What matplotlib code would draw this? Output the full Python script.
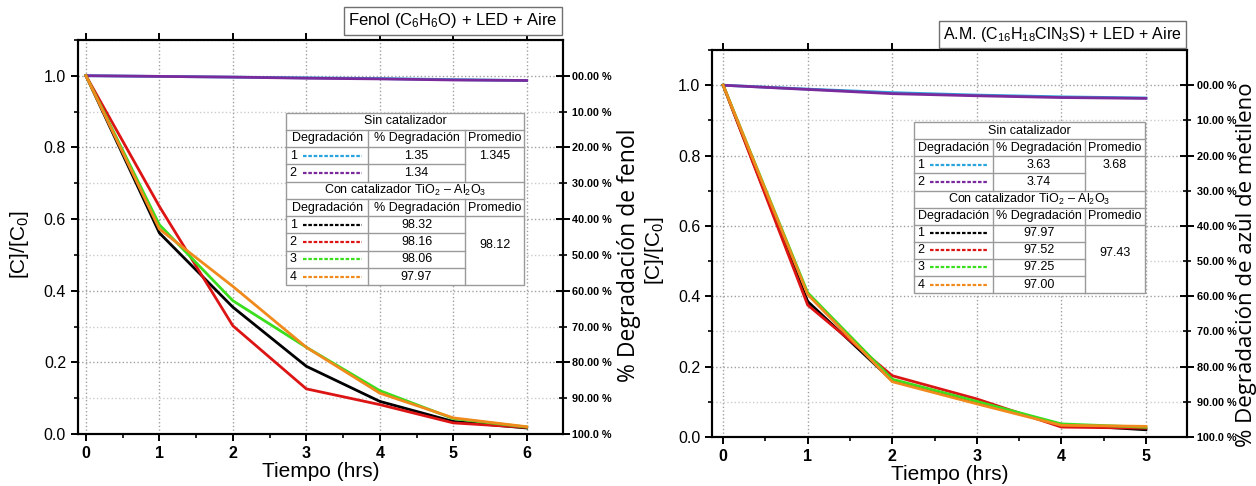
import matplotlib
matplotlib.use("Agg")
import matplotlib.pyplot as plt
from matplotlib.patches import Rectangle
from matplotlib.ticker import MultipleLocator, FixedLocator, FixedFormatter

plt.rcParams["font.family"] = ["Liberation Sans", "DejaVu Sans"]
plt.rcParams["mathtext.fontset"] = "custom"
plt.rcParams["mathtext.rm"] = "Liberation Sans"
plt.rcParams["mathtext.it"] = "Liberation Sans:italic"
plt.rcParams["mathtext.default"] = "rm"

# ---- data: fenol ----
t_fenol = [0, 1, 2, 3, 4, 5, 6]
fenol_sin1 = [1.0, 0.998, 0.996, 0.994, 0.992, 0.989, 0.9865]
fenol_sin2 = [1.0, 0.998, 0.996, 0.993, 0.991, 0.988, 0.9866]
fenol_cat1 = [1.0, 0.561, 0.354, 0.189, 0.091, 0.035, 0.0168]
fenol_cat2 = [1.0, 0.635, 0.302, 0.126, 0.082, 0.031, 0.0184]
fenol_cat3 = [1.0, 0.584, 0.372, 0.242, 0.121, 0.043, 0.0194]
fenol_cat4 = [1.0, 0.572, 0.412, 0.242, 0.114, 0.045, 0.0203]
fenol_sin_pct = ["1.35", "1.34"]
fenol_sin_avg = "1.345"
fenol_cat_pct = ["98.32", "98.16", "98.06", "97.97"]
fenol_cat_avg = "98.12"

# ---- data: azul de metileno ----
t_am = [0, 1, 2, 3, 4, 5]
am_sin1 = [1.0, 0.989, 0.979, 0.972, 0.967, 0.9637]
am_sin2 = [1.0, 0.988, 0.976, 0.970, 0.965, 0.9626]
am_cat1 = [1.0, 0.385, 0.160, 0.098, 0.035, 0.0203]
am_cat2 = [1.0, 0.375, 0.174, 0.108, 0.028, 0.0248]
am_cat3 = [1.0, 0.410, 0.164, 0.101, 0.037, 0.0275]
am_cat4 = [1.0, 0.405, 0.157, 0.094, 0.033, 0.0300]
am_sin_pct = ["3.63", "3.74"]
am_sin_avg = "3.68"
am_cat_pct = ["97.97", "97.52", "97.25", "97.00"]
am_cat_avg = "97.43"

pct_ticks = [0, 10, 20, 30, 40, 50, 60, 70, 80, 90, 100]
pct_labels = ["00.00 %", "10.00 %", "20.00 %", "30.00 %", "40.00 %", "50.00 %",
              "60.00 %", "70.00 %", "80.00 %", "90.00 %", "100.0 %"]

SIN_COLORS = ["#2ba3dc", "#7b2a9c"]
CAT_COLORS = ["#000000", "#dc1414", "#3ade1c", "#f08a1c"]
GRID = "#a0a0a0"
TBL = "#9a9a9a"


def style_axes(ax, xmin, xmax, xmax_tick):
    ax.set_xlim(xmin, xmax)
    ax.set_ylim(0, 1.1)
    ax.xaxis.set_major_locator(FixedLocator(range(0, xmax_tick + 1)))
    ax.xaxis.set_minor_locator(MultipleLocator(0.5))
    ax.yaxis.set_major_locator(MultipleLocator(0.2))
    ax.yaxis.set_minor_locator(MultipleLocator(0.1))
    ax.grid(which="major", axis="both", linestyle=":", color=GRID, lw=1)
    ax.grid(which="minor", axis="y", linestyle=":", color="#cccccc", lw=1)
    for s in ax.spines.values():
        s.set_linewidth(1.5)
    ax.tick_params(which="major", direction="out", length=5, width=1.4,
                   labelsize=11.5, right=False, top=True)
    ax.tick_params(which="minor", direction="out", length=3, width=1.2,
                   right=False, top=False)
    ax.set_yticks([0, 0.2, 0.4, 0.6, 0.8, 1.0])
    ax.set_yticklabels(["0.0", "0.2", "0.4", "0.6", "0.8", "1.0"])
    for lab in ax.get_xticklabels():
        lab.set_fontweight("bold")
    ax.set_xlabel("Tiempo (hrs)", fontsize=15, labelpad=1)
    ax.set_ylabel("[C]/[C$_0$]", fontsize=15)
    ax.yaxis.set_label_coords(-0.097, 0.48)

    tw = ax.twinx()
    tw.set_ylim(100, -10)
    tw.yaxis.set_major_locator(FixedLocator(pct_ticks[::2]))
    tw.yaxis.set_major_formatter(FixedFormatter(pct_labels[::2]))
    tw.yaxis.set_minor_locator(FixedLocator(pct_ticks[1::2]))
    tw.yaxis.set_minor_formatter(FixedFormatter(pct_labels[1::2]))
    tw.tick_params(which="major", direction="inout", length=10, width=1.4,
                   labelsize=7.8, pad=2)
    tw.tick_params(which="minor", direction="inout", length=6, width=1.2,
                   labelsize=7.8, pad=4)
    for lab in tw.get_yticklabels(which="both"):
        lab.set_fontweight("bold")
    for s in tw.spines.values():
        s.set_linewidth(1.5)
    return tw


def draw_table(ax, cols, top, bottom, sin_pct, sin_avg, cat_pct, cat_avg):
    nrows = 10
    h = (top - bottom) / nrows
    x0, c1, c2, x3 = cols
    z = 5
    ax.add_patch(Rectangle((x0, bottom), x3 - x0, top - bottom, facecolor="white",
                           edgecolor=TBL, lw=1, zorder=z))

    def hline(row, xa, xb):
        y = top - row * h
        ax.plot([xa, xb], [y, y], color=TBL, lw=1, zorder=z + 1)

    def vline(x, ra, rb):
        ax.plot([x, x], [top - ra * h, top - rb * h], color=TBL, lw=1, zorder=z + 1)

    for r in [1, 2, 4, 5, 6]:
        hline(r, x0, x3)
    for r in [3, 7, 8, 9]:
        hline(r, x0, c2)
    for x in (c1, c2):
        vline(x, 1, 4)
        vline(x, 5, 10)

    def yc(row):
        return top - (row + 0.5) * h

    kw = dict(fontsize=9, zorder=z + 2, va="center")
    ax.text((x0 + x3) / 2, yc(0), "Sin catalizador", ha="center", **kw)
    ax.text((x0 + x3) / 2, yc(4), "Con catalizador TiO$_2$ – Al$_2$O$_3$",
            ha="center", **kw)
    for r in (1, 5):
        ax.text((x0 + c1) / 2, yc(r), "Degradación", ha="center", **kw)
        ax.text((c1 + c2) / 2, yc(r), "% Degradación", ha="center", **kw)
        ax.text((c2 + x3) / 2, yc(r), "Promedio", ha="center", **kw)

    w0 = c1 - x0
    rows = [(2 + i, str(i + 1), v, SIN_COLORS[i]) for i, v in enumerate(sin_pct)]
    rows += [(6 + i, str(i + 1), v, CAT_COLORS[i]) for i, v in enumerate(cat_pct)]
    for r, num, val, col in rows:
        ax.text(x0 + 0.04 * w0, yc(r), num, ha="left", **kw)
        ax.plot([x0 + 0.2 * w0, x0 + 0.92 * w0], [yc(r), yc(r)], color=col, lw=1.6,
                linestyle=(0, (1.6, 0.8)), zorder=z + 2)
        ax.text((c1 + c2) / 2, yc(r), val, ha="center", **kw)
    ax.text((c2 + x3) / 2, yc(2), sin_avg, ha="center", **kw)
    ax.text((c2 + x3) / 2, top - 7.65 * h, cat_avg, ha="center", **kw)


fig = plt.figure(figsize=(12.56, 4.86), dpi=100)

# ---- left panel: fenol ----
ax1 = fig.add_axes([0.062, 0.107, 0.386, 0.811])
tw1 = style_axes(ax1, -0.11, 6.49, 6)
for y, c in zip([fenol_sin1, fenol_sin2], SIN_COLORS):
    ax1.plot(t_fenol, y, color=c, lw=2, zorder=3)
for y, c in zip([fenol_cat1, fenol_cat2, fenol_cat3, fenol_cat4], CAT_COLORS):
    ax1.plot(t_fenol, y, color=c, lw=2, zorder=3)
draw_table(ax1, [2.73, 3.84, 5.16, 5.97], 0.897, 0.415,
           fenol_sin_pct, fenol_sin_avg, fenol_cat_pct, fenol_cat_avg)
tw1.set_ylabel("% Degradación de fenol", fontsize=16.5,
               family=["Open Sans", "DejaVu Sans"])
tw1.yaxis.set_label_coords(1.113, 0.454)
fig.text(0.444, 0.957, "Fenol (C$_6$H$_6$O) + LED + Aire", fontsize=12,
         ha="right", va="center",
         bbox=dict(boxstyle="square,pad=0.25", fc="white", ec="#707070", lw=1))

# ---- right panel: azul de metileno ----
ax2 = fig.add_axes([0.567, 0.101, 0.378, 0.796])
tw2 = style_axes(ax2, -0.13, 5.485, 5)
for y, c in zip([am_sin1, am_sin2], SIN_COLORS):
    ax2.plot(t_am, y, color=c, lw=2, zorder=3)
for y, c in zip([am_cat1, am_cat2, am_cat3, am_cat4], CAT_COLORS):
    ax2.plot(t_am, y, color=c, lw=2, zorder=3)
draw_table(ax2, [2.26, 3.19, 4.28, 4.99], 0.895, 0.409,
           am_sin_pct, am_sin_avg, am_cat_pct, am_cat_avg)
tw2.set_ylabel("% Degradación de azul de metileno", fontsize=16,
               family=["Open Sans", "DejaVu Sans"])
tw2.yaxis.set_label_coords(1.104, 0.444)
fig.text(0.941, 0.930, "A.M. (C$_{16}$H$_{18}$ClN$_3$S) + LED + Aire", fontsize=11.5,
         ha="right", va="center",
         bbox=dict(boxstyle="square,pad=0.25", fc="white", ec="#707070", lw=1))

fig.savefig("out.png", dpi=100, facecolor="white")
